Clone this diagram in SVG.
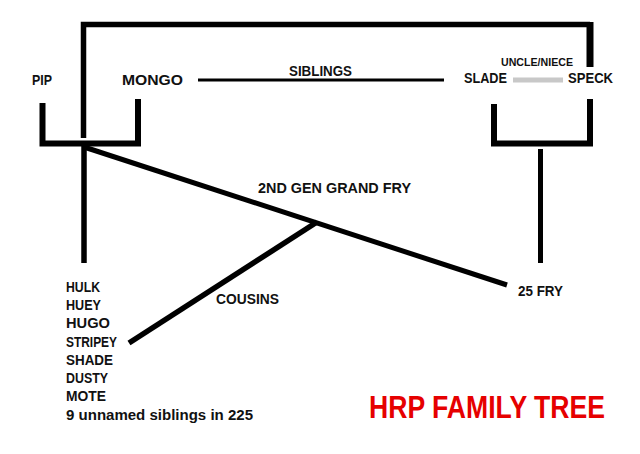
<svg xmlns="http://www.w3.org/2000/svg" width="640" height="454" viewBox="0 0 640 454">
<style>
text{font-family:"Liberation Sans",Arial,sans-serif;font-weight:bold;fill:#111;font-size:14px}
.big{font-size:14.5px}
.small{font-size:10.5px}
.title{font-size:30.5px;fill:#e60000}
.ln{stroke:#000;fill:none;stroke-linecap:butt;stroke-linejoin:miter}
</style>
<rect width="640" height="454" fill="#fff"/>
<g id="connectors">
<path class="ln" d="M83.5,138 V24.5 H590" stroke-width="5.5"/>
<path class="ln" d="M590,22 V67" stroke-width="7"/>
<path class="ln" d="M42.5,103 V143.5 H138 V99" stroke-width="6"/>
<path class="ln" d="M84,143 V263" stroke-width="5.5"/>
<path class="ln" d="M84,147 L507,285" stroke-width="5"/>
<path class="ln" d="M317,222 L129,343" stroke-width="5.5"/>
<path class="ln" d="M494,104 V143.5 H590 V99" stroke-width="6"/>
<path class="ln" d="M540.5,149 V263" stroke-width="5"/>
<path class="ln" d="M198,80 H444" stroke-width="3"/>
<path class="ln" d="M513,80 H563" stroke-width="5" style="stroke:#c8c8c8"/>
</g>
<g id="pip"><text class="big" x="32" y="85" textLength="20" lengthAdjust="spacingAndGlyphs">PIP</text></g>
<g id="mongo"><text class="big" x="122" y="85" textLength="61" lengthAdjust="spacingAndGlyphs">MONGO</text></g>
<g id="siblings-label"><text x="289" y="76" textLength="63" lengthAdjust="spacingAndGlyphs">SIBLINGS</text></g>
<g id="uncle-niece-label"><text class="small" x="501" y="66" textLength="72" lengthAdjust="spacingAndGlyphs">UNCLE/NIECE</text></g>
<g id="slade"><text class="big" x="464" y="83" textLength="43" lengthAdjust="spacingAndGlyphs">SLADE</text></g>
<g id="speck"><text class="big" x="568" y="83" textLength="45" lengthAdjust="spacingAndGlyphs">SPECK</text></g>
<g id="grand-fry-label"><text x="258" y="193" textLength="153" lengthAdjust="spacingAndGlyphs">2ND GEN GRAND FRY</text></g>
<g id="cousins-label"><text x="216" y="304" textLength="63" lengthAdjust="spacingAndGlyphs">COUSINS</text></g>
<g id="fry25"><text x="518" y="296" textLength="45" lengthAdjust="spacingAndGlyphs">25 FRY</text></g>
<g id="children">
<text x="66" y="292" textLength="34" lengthAdjust="spacingAndGlyphs">HULK</text>
<text x="66" y="310" textLength="35" lengthAdjust="spacingAndGlyphs">HUEY</text>
<text x="66" y="328" textLength="44" lengthAdjust="spacingAndGlyphs">HUGO</text>
<text x="66" y="347" textLength="51" lengthAdjust="spacingAndGlyphs">STRIPEY</text>
<text x="66" y="365" textLength="47" lengthAdjust="spacingAndGlyphs">SHADE</text>
<text x="66" y="383" textLength="42" lengthAdjust="spacingAndGlyphs">DUSTY</text>
<text x="66" y="401" textLength="40" lengthAdjust="spacingAndGlyphs">MOTE</text>
<text x="66" y="420" textLength="187" lengthAdjust="spacingAndGlyphs">9 unnamed siblings in 225</text>
</g>
<g id="title"><text class="title" x="369" y="418" textLength="236" lengthAdjust="spacingAndGlyphs">HRP FAMILY TREE</text></g>
</svg>
